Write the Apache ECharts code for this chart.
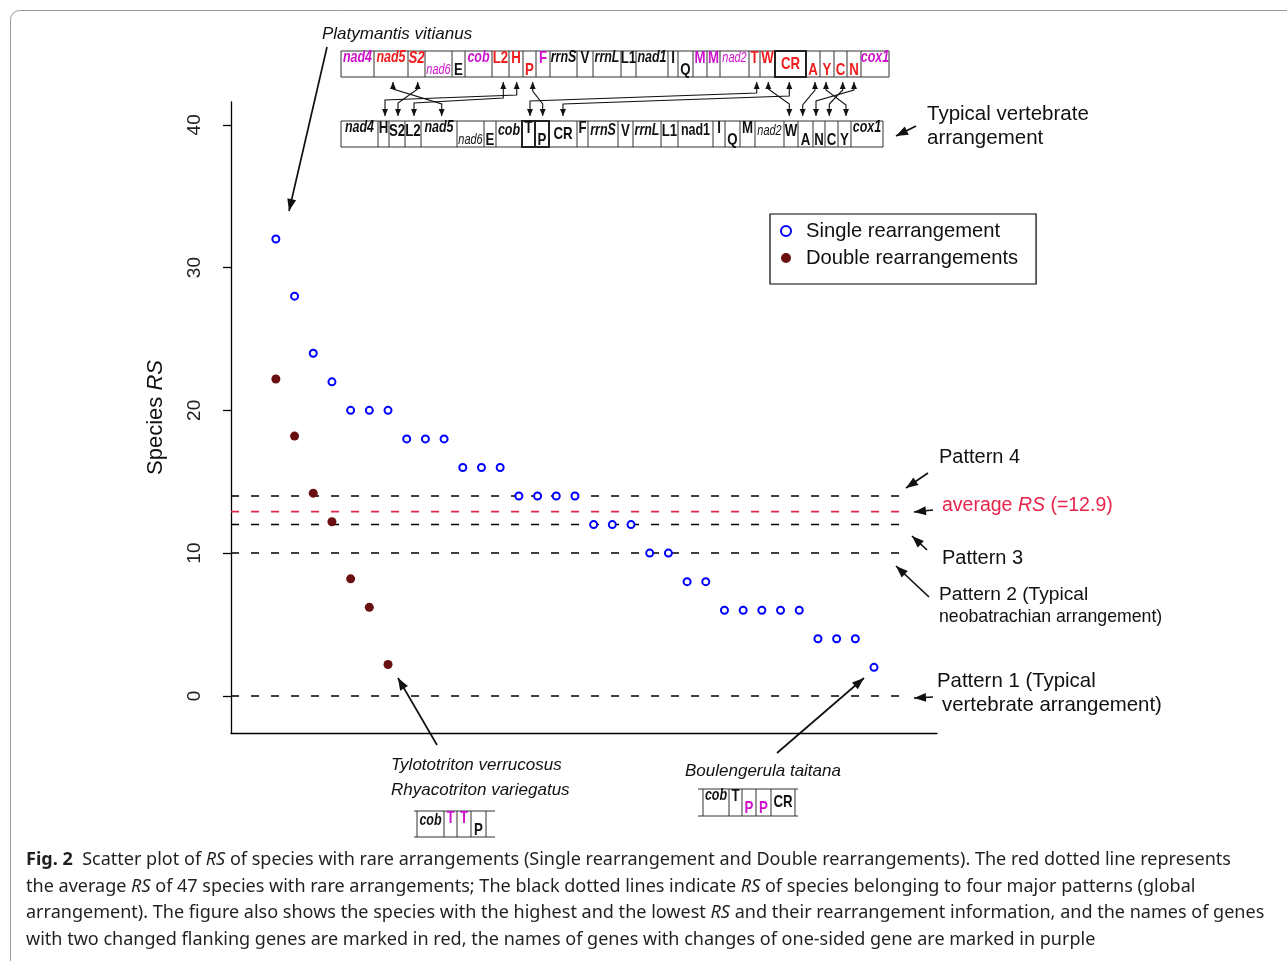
<!DOCTYPE html>
<html><head><meta charset="utf-8">
<script src="https://cdn.jsdelivr.net/npm/echarts@6/dist/echarts.min.js"></script>
<style>html,body{margin:0;padding:0;background:#fff}#c{width:1287px;height:961px}</style>
</head><body><div id="c"></div>
<script>
// ---------------- DATA ----------------
const singleRS = [32,28,24,22,20,20,20,18,18,18,16,16,16,14,14,14,14,12,12,12,10,10,8,8,6,6,6,6,6,4,4,4,2];
const doubleRS = [22.2,18.2,14.2,12.2,8.2,6.2,2.2];
const patternRS = [0,10,12,14];
const averageRS = 12.9;
const yTicks = [0,10,20,30,40];
const seriesNames = ['Single rearrangement','Double rearrangements'];

// gene arrangements (labels, colour codes m=purple r=red k=black)
const topGenes = ['nad4','nad5','S2','nad6','E','cob','L2','H','P','F','rrnS','V','rrnL','L1','nad1','I','Q','M','M','nad2','T','W','CR','A','Y','C','N','cox1'];
const topColors = 'mrrmkmrrrmkkkkkkkmmmrrrrrrrm';
const botGenes = ['nad4','H','S2','L2','nad5','nad6','E','cob','T','P','CR','F','rrnS','V','rrnL','L1','nad1','I','Q','M','nad2','W','A','N','C','Y','cox1'];
const botColors = 'kkkkkkkkkkkkkkkkkkkkkkkkkkk';
const tyloGenes = ['cob','T','T','P'];
const tyloColors = 'kmmk';
const bouleGenes = ['cob','T','P','P','CR'];
const bouleColors = 'kkmmk';

const captionLines = [
 '{b|Fig. 2}  Scatter plot of {i|RS} of species with rare arrangements (Single rearrangement and Double rearrangements). The red dotted line represents',
 'the average {i|RS} of 47 species with rare arrangements; The black dotted lines indicate {i|RS} of species belonging to four major patterns (global',
 'arrangement). The figure also shows the species with the highest and the lowest {i|RS} and their rearrangement information, and the names of genes',
 'with two changed flanking genes are marked in red, the names of genes with changes of one-sided gene are marked in purple'
];

// ---------------- LAYOUT / STYLE ----------------
const COL = {m:'#cc11cc', r:'#ee1c1c', k:'#111'};
const FAM = 'Liberation Sans, Arial, sans-serif';
const GFAM = "'Liberation Sans',Arial,sans-serif";
const RED = '#e8234a';
const topPos = 'hhhllhhhlhhhhhhhlhhhhhcllllh';
const topSty = 'iiisninnnninininnnnsnnnnnnni';
const topEdges = [341,374,408,425,452,465,492,509,523,536,550,577,593,621,636,668,678,693,707,720,749,760,775,806,820,834,847,861,889];
const botPos = 'hhmmhllmhlchmmmmmhlhmmllllh';
const botSty = 'innnisninnnnininnnnnsnnnnni';
const botEdges = [341,378,389,405,421,457,484,496,522,535,549,577,588,618,633,661,678,713,725,740,755,784,798,813,825,838,851,883];

const graphics = [];
const LINE = '#333';
function hline(x1,x2,y,w,c){graphics.push({type:'line',shape:{x1,y1:y,x2,y2:y},style:{stroke:c||LINE,lineWidth:w||1}});}
function vline(x,y1,y2,w,c){graphics.push({type:'line',shape:{x1:x,y1,x2:x,y2},style:{stroke:c||LINE,lineWidth:w||1}});}
function text(x,y,t,o){
  o=o||{};
  graphics.push({type:'text',x,y,z:10,style:Object.assign({text:t,fill:'#111',fontSize:19,fontFamily:FAM,
    align:o.align||'left',verticalAlign:'middle',textAlign:o.align||'left',textVerticalAlign:'middle'},o.style||{})});
}
function geneRow(genes,colors,pos,sty,edges,top,h,opt){
  opt=opt||{};
  const ext=opt.ext||0;
  hline(edges[0]-ext,edges[edges.length-1]+(opt.extR||ext),top);
  hline(edges[0]-ext,edges[edges.length-1]+(opt.extR||ext),top+h);
  edges.forEach(e=>vline(e,top,top+h));
  (opt.thick||[]).forEach(i=>{
    graphics.push({type:'rect',shape:{x:edges[i],y:top,width:edges[i+1]-edges[i],height:h},style:{fill:null,stroke:'#222',lineWidth:2}});
  });
  const off={h:7,m:10,c:13,l:19};
  genes.forEach((g,i)=>{
    const cx=(edges[i]+edges[i+1])/2;
    const s=sty?sty[i]:'n';
    const small=s==='s';
    const italic=(s==='i'||s==='s');
    const fs = small?14:(g.length>=3?16:17);
    graphics.push({type:'text',x:cx,y:top+off[pos[i]],z:10,scaleX:0.78,style:{text:g,fill:COL[colors[i]],
      fontSize:fs,fontWeight:small?'normal':'bold',fontStyle:italic?'italic':'normal',fontFamily:GFAM,
      align:'center',verticalAlign:'middle',textAlign:'center',textVerticalAlign:'middle'}});
  });
}
function arrow(pts,o){
  o=o||{};
  const lw=o.lw||1, len=o.len||6, wid=o.wid||5, both=o.both;
  graphics.push({type:'polyline',shape:{points:pts},style:{stroke:'#111',lineWidth:lw,fill:null}});
  function head(tip,from){
    const dx=tip[0]-from[0],dy=tip[1]-from[1],d=Math.hypot(dx,dy),ux=dx/d,uy=dy/d;
    const bx=tip[0]-ux*len,by=tip[1]-uy*len,nx=-uy,ny=ux;
    graphics.push({type:'polygon',shape:{points:[tip,[bx+nx*wid/2,by+ny*wid/2],[bx-nx*wid/2,by-ny*wid/2]]},style:{fill:'#111'}});
  }
  head(pts[pts.length-1],pts[pts.length-2]);
  if(both) head(pts[0],pts[1]);
}

// frame
graphics.push({type:'rect',shape:{x:10.5,y:10.5,width:1400,height:1100,r:9},style:{fill:null,stroke:'#9a9a9a',lineWidth:1}});

// gene rows
geneRow(topGenes,topColors,topPos,topSty,topEdges,51,26,{thick:[22]});
geneRow(botGenes,botColors,botPos,botSty,botEdges,121,26,{thick:[8,9]});
geneRow(tyloGenes,tyloColors,'mhhl','innn',[417,444,457,471,486],811,26,{ext:3,extR:9});
geneRow(bouleGenes,bouleColors,'hhllc','innnn',[703,729,742,756,771,795],789,27,{ext:5,extR:3});

// connectors between top and bottom rows
const conn = [
 [[393,82],[393,89],[441.7,104],[441.7,116]],
 [[417.7,82],[417.7,89],[398,103],[398,116]],
 [[516.7,82],[516.7,95],[385,100],[385,116]],
 [[503.3,82],[503.3,98],[414,103],[414,116]],
 [[532.7,82],[532.7,91],[542.7,104],[542.7,116]],
 [[756.7,82],[756.7,93],[530,101],[530,116]],
 [[789.3,82],[789.3,96],[563,104],[563,116]],
 [[768.3,82],[768.3,89],[789.3,104],[789.3,116]],
 [[815,82],[815,90],[802.7,105],[802.7,116]],
 [[826,82],[826,90],[846,105],[846,116]],
 [[842.7,82],[842.7,90],[829.3,104],[829.3,116]],
 [[854,82],[854,90],[816,101],[816,116]]
];
conn.forEach(p=>arrow(p,{both:true,len:7,wid:6,lw:1.1}));

// annotation arrows
const big={lw:1.7,len:12,wid:9};
arrow([[327,47],[289,211]],big);
arrow([[916,126],[896,136]],big);
arrow([[928,473],[906,488]],big);
arrow([[933,510],[914,512]],big);
arrow([[927,550],[912,536]],big);
arrow([[929,597],[896,566]],big);
arrow([[933,697],[914,698]],big);
arrow([[437,745],[398,678]],big);
arrow([[777,753],[864,678]],big);

// annotation texts
const it={fontStyle:'italic',fontSize:17};
text(322,34,'Platymantis vitianus',{style:it});
text(927,114,'Typical vertebrate',{style:{fontSize:20.5}});
text(927,138,'arrangement',{style:{fontSize:20.5}});
text(939,457,'Pattern 4',{style:{fontSize:20}});
graphics.push({type:'text',x:942,y:506,z:10,style:{text:'average {i|RS} (=12.9)',fill:RED,fontSize:19.5,fontFamily:FAM,verticalAlign:'middle',textVerticalAlign:'middle',
  rich:{i:{fontStyle:'italic',fontSize:19.5,fill:RED,fontFamily:FAM}}}});
text(942,558,'Pattern 3',{style:{fontSize:20}});
text(939,595,'Pattern 2 (Typical',{style:{fontSize:19.2}});
text(939,617,'neobatrachian arrangement)',{style:{fontSize:17.7}});
text(937,681,'Pattern 1 (Typical',{style:{fontSize:20.4}});
text(942,705,'vertebrate arrangement)',{style:{fontSize:20.4}});
text(391,765,'Tylototriton verrucosus',{style:it});
text(391,790,'Rhyacotriton variegatus',{style:it});
text(685,771,'Boulengerula taitana',{style:it});

// caption
const capY=[860,887,913,940];
const CFS=18.05;
captionLines.forEach((t,i)=>{
  graphics.push({type:'text',x:26,y:capY[i],z:10,style:{text:t,fill:'#231f20',fontSize:CFS,fontFamily:'Noto Sans',
    verticalAlign:'middle',textVerticalAlign:'middle',
    rich:{b:{fontWeight:'bold',fontSize:CFS,fontFamily:'Noto Sans',fill:'#231f20'},i:{fontStyle:'italic',fontSize:CFS,fontFamily:'Noto Sans',fill:'#231f20'}}}});
});

// ---------------- CHART ----------------
const XMIN=-2.4, XMAX=35.37, LINE_END=33.4;
const dashSeries = patternRS.map(v=>({type:'line',silent:true,symbol:'none',z:2,
  data:[[XMIN,v],[LINE_END,v]],lineStyle:{color:'#000',width:1.5,type:[8,12]}}));
dashSeries.push({type:'line',silent:true,symbol:'none',z:2,data:[[XMIN,averageRS],[LINE_END,averageRS]],
  lineStyle:{color:RED,width:1.8,type:[8,12]}});

const chart = echarts.init(document.getElementById('c'),null,{renderer:'canvas'});
chart.setOption({
  animation:false,
  backgroundColor:'#fff',
  grid:{left:231,right:350,top:102,bottom:228},
  xAxis:{type:'value',min:XMIN,max:XMAX,axisLine:{show:true,onZero:false,lineStyle:{color:'#000',width:1.3}},
    axisTick:{show:false},axisLabel:{show:false},splitLine:{show:false}},
  yAxis:{type:'value',min:-2.6,max:41.6,
    axisLine:{show:true,onZero:false,lineStyle:{color:'#000',width:1.3}},
    axisTick:{show:true,length:8,customValues:yTicks,lineStyle:{color:'#000',width:1.3}},
    axisLabel:{customValues:yTicks,rotate:90,margin:27,fontSize:19,color:'#222',fontFamily:FAM},
    splitLine:{show:false},
    name:'{a|Species }{b|RS}',nameLocation:'middle',nameRotate:90,nameGap:64,
    nameTextStyle:{rich:{a:{fontSize:22,fontFamily:FAM,color:'#111'},b:{fontSize:22,fontFamily:FAM,fontStyle:'italic',color:'#111'}}}},
  legend:{data:[
      {name:seriesNames[0],icon:'circle',itemStyle:{color:'#fff',borderColor:'#0000ff',borderWidth:2,opacity:1}},
      {name:seriesNames[1],icon:'circle',itemStyle:{color:'#6b1010',opacity:1}}],
    orient:'vertical',left:770,top:214,padding:[6,18,15,10],itemGap:5,itemWidth:10,itemHeight:10,
    borderColor:'#000',borderWidth:1.2,
    textStyle:{fontSize:20.2,fontFamily:FAM,color:'#111',lineHeight:22,padding:[0,0,0,10]}},
  series:[
    {name:seriesNames[0],type:'scatter',z:5,symbol:'circle',symbolSize:7,
      data:singleRS.map((v,i)=>[i,v]),itemStyle:{color:'#fff',borderColor:'#0000ff',borderWidth:2,opacity:1}},
    {name:seriesNames[1],type:'scatter',z:5,symbol:'circle',symbolSize:9,
      data:doubleRS.map((v,i)=>[i,v]),itemStyle:{color:'#6b1010',opacity:1}},
    ...dashSeries
  ],
  graphic:{elements:graphics}
});
</script></body></html>
